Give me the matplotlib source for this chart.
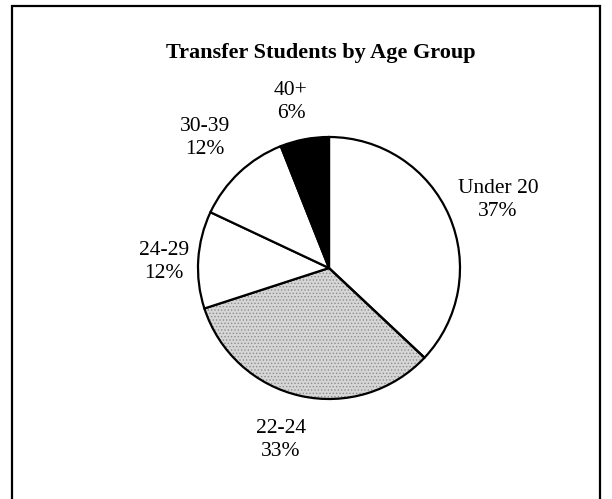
import matplotlib
matplotlib.use('Agg')
import matplotlib.pyplot as plt
from matplotlib.patches import Wedge

# data
groups = ['Under 20', '22-24', '24-29', '30-39', '40+']
shares = [37, 33, 12, 12, 6]
fills = ['white', '#d6d6d6', 'white', 'white', 'black']

W, H = 612, 499
# label centres in pixels from top-left
label_xy = [(498, 200), (281, 440), (164, 262), (205, 138), (291, 102)]

plt.rcParams['font.family'] = ['Liberation Serif', 'DejaVu Serif']
plt.rcParams['hatch.linewidth'] = 0.6

fig = plt.figure(figsize=(W / 100, H / 100), dpi=100)
ax = fig.add_axes([0, 0, 1, 1])

wedges, _ = ax.pie(shares, colors=fills, startangle=90, counterclock=False,
                   center=(329, H - 268), radius=131,
                   wedgeprops=dict(edgecolor='black', linewidth=1.6))

# stippled look for the grey slice: grey fill + dot hatch under the outline
g = wedges[1]
stip = Wedge(g.center, g.r, g.theta1, g.theta2, facecolor='#d6d6d6',
             edgecolor='#8c8c8c', hatch='.....', linewidth=0, zorder=0.9)
ax.add_patch(stip)
g.set_facecolor('none')

for name, s, (x, y) in zip(groups, shares, label_xy):
    ax.text(x, H - y, '%s\n%d%%' % (name, s), ha='center', va='center',
            multialignment='center', fontsize=15.5, linespacing=1.35)

ax.text(321, H - 53, 'Transfer Students by Age Group', ha='center',
        va='center', fontsize=16, fontweight='bold')

# frame (open at the bottom)
ax.plot([12, 12, 600, 600], [0, H - 6, H - 6, 0], color='black', lw=1.6,
        solid_joinstyle='miter')

ax.set_xlim(0, W)
ax.set_ylim(0, H)
ax.set_aspect('auto')
ax.axis('off')

fig.savefig('out.png', dpi=100)
